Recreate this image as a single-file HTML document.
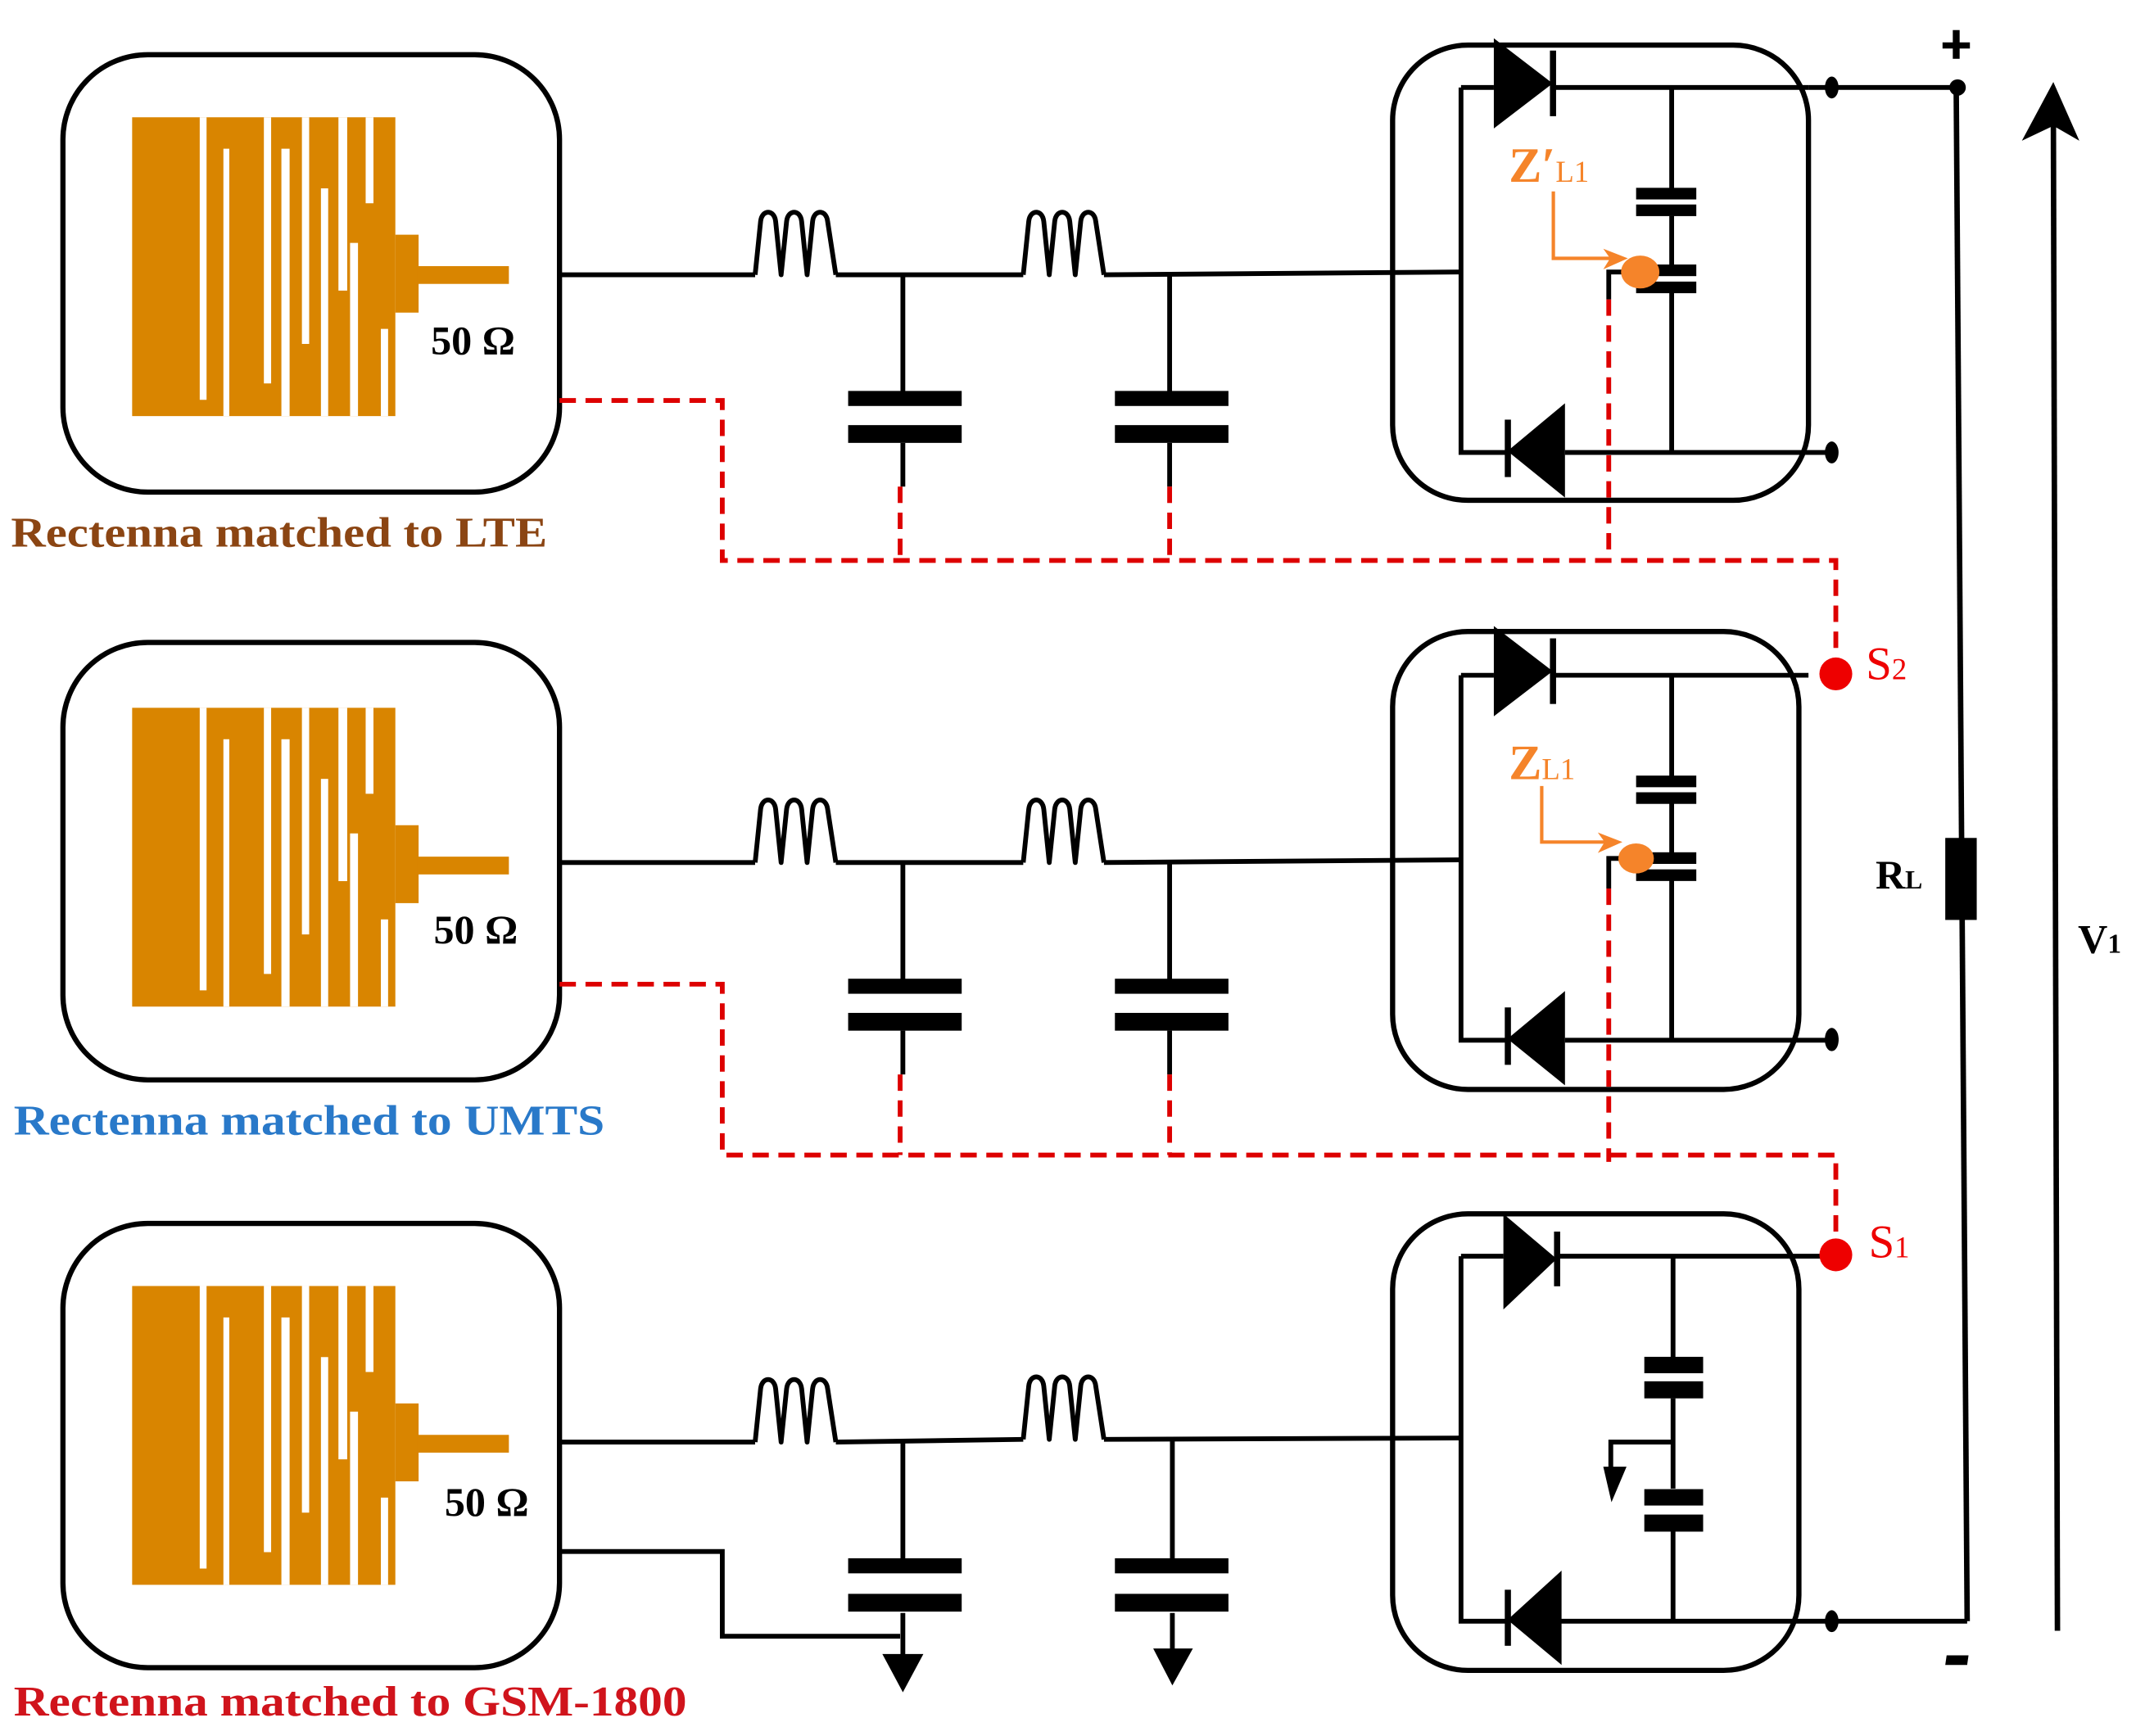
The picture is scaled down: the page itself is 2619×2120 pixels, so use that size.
<!DOCTYPE html>
<html><head><meta charset="utf-8"><style>html,body{margin:0;padding:0;background:#fff}svg{display:block}</style></head>
<body>
<svg width="2619" height="2120" viewBox="0 0 1568 1270" preserveAspectRatio="none" xmlns="http://www.w3.org/2000/svg">
<defs>
<g id="ant">
<rect x="96.6" y="85.8" width="192.4" height="218.6" fill="#d98500"/>
<rect x="289" y="171.7" width="17" height="57" fill="#d98500"/>
<rect x="305" y="194.7" width="67" height="13" fill="#d98500"/>
<g fill="#fff">
<rect x="146" y="85.8" width="5" height="206.7"/>
<rect x="163.3" y="108.8" width="4.3" height="195.6"/>
<rect x="192.9" y="85.8" width="5.3" height="194.7"/>
<rect x="205.7" y="108.8" width="6" height="195.6"/>
<rect x="220.7" y="85.8" width="5.3" height="165.8"/>
<rect x="234.6" y="137.8" width="5.3" height="166.6"/>
<rect x="247.4" y="85.8" width="6.4" height="126.8"/>
<rect x="255.9" y="177.7" width="5.8" height="126.7"/>
<rect x="267.3" y="85.8" width="5.7" height="62.9"/>
<rect x="278.4" y="240.6" width="5.3" height="63.8"/>
</g>
</g>
<path id="ind" d="M0,0 L4,-39 C5,-48 14,-48 15,-39 L19,0 L23,-39 C24,-48 33,-48 34,-39 L38,0 L42,-39 C43,-48 52,-48 53,-39 L59,0" fill="none" stroke="#000" stroke-width="3.5" stroke-linejoin="round"/>
<g id="filt" fill="none" stroke="#000" stroke-width="3.5">
<rect x="46" y="40" width="363" height="320" rx="62" stroke-width="3.8"/>
<path d="M409,201 L552,201 M611,201 L748,201 M807,201 L1068,199"/>
<use href="#ind" x="552" y="201"/>
<use href="#ind" x="748" y="201"/>
<path d="M660,201 V288 M660,324 V356 M855,201 V288 M855,324 V356"/>
<g fill="#000" stroke="none">
<rect x="620" y="286" width="83" height="11"/><rect x="620" y="311" width="83" height="13"/>
<rect x="815" y="286" width="83" height="11"/><rect x="815" y="311" width="83" height="13"/>
</g>
</g>
<g id="rect" fill="none" stroke="#000" stroke-width="3.5">
<path d="M1068,64 V331 H1102 M1068,64 H1092 M1135,64 H1322 M1144,331 H1338 M1222,64 V138 M1222,158 V194 M1222,214 V331"/>
<g fill="#000" stroke="none">
<rect x="1196" y="137.4" width="44" height="8.5"/><rect x="1196" y="149.6" width="44" height="8.5"/>
<rect x="1196" y="193.5" width="44" height="8.5"/><rect x="1196" y="206" width="44" height="8.5"/>
<polygon points="1092,28 1092,94 1135,61"/><rect x="1133" y="37" width="4.5" height="48"/>
<polygon points="1144,295 1144,364 1102,330"/><rect x="1100" y="307" width="4.5" height="42"/>
<ellipse cx="1339" cy="331" rx="5" ry="8"/>
</g>
</g>
</defs>

<use href="#ant"/>
<use href="#filt"/>
<rect x="1018" y="33" width="304" height="333" rx="55" fill="none" stroke="#000" stroke-width="3.8"/>
<use href="#rect"/>
<path d="M1222,199 H1176 V219" fill="none" stroke="#000" stroke-width="3.5"/>
<path d="M1322,64 H1430" stroke="#000" stroke-width="3.5"/>
<ellipse cx="1339" cy="64" rx="5" ry="8"/>
<ellipse cx="1431" cy="64" rx="6" ry="6"/>

<use href="#ant" transform="translate(0,432)"/>
<use href="#filt" transform="translate(0,430)"/>
<rect x="1018" y="462" width="297" height="335" rx="55" fill="none" stroke="#000" stroke-width="3.8"/>
<use href="#rect" transform="translate(0,430)"/>
<path d="M1222,628 H1176 V650" fill="none" stroke="#000" stroke-width="3.5"/>

<use href="#ant" transform="translate(0,855)"/>
<rect x="46" y="895" width="363" height="325" rx="62" fill="none" stroke="#000" stroke-width="3.8"/>
<g fill="none" stroke="#000" stroke-width="3.5">
<path d="M409,1055 L552,1055 M611,1055 L748,1053 M807,1053 L1068,1052"/>
<use href="#ind" x="552" y="1055"/>
<use href="#ind" x="748" y="1053"/>
<path d="M660,1055 V1142 M660,1180 V1212 M857,1053 V1142 M857,1180 V1208"/>
<path d="M409,1135 H528 V1197 H658"/>
</g>
<g fill="#000">
<rect x="620" y="1140" width="83" height="11"/><rect x="620" y="1166" width="83" height="13"/>
<rect x="815" y="1140" width="83" height="11"/><rect x="815" y="1166" width="83" height="13"/>
<polygon points="645,1210 675,1210 660,1238"/>
<polygon points="843,1206 872,1206 857,1233"/>
</g>
<rect x="1018" y="888" width="297" height="334" rx="55" fill="none" stroke="#000" stroke-width="3.8"/>
<g fill="none" stroke="#000" stroke-width="3.5">
<path d="M1068,919 V1186 H1102 M1068,919 H1099 M1138,919 H1342 M1141,1186 H1438 M1223,919 V993 M1223,1023 V1089 M1223,1120 V1186 M1223,1055 H1177.5 V1075"/>
</g>
<g fill="#000">
<rect x="1202" y="992.6" width="43" height="12"/><rect x="1202" y="1010.5" width="43" height="12.5"/>
<rect x="1202" y="1089.4" width="43" height="12"/><rect x="1202" y="1108" width="43" height="12.5"/>
<polygon points="1099,888 1099,958 1138,921"/><rect x="1136" y="901" width="4.5" height="40"/>
<polygon points="1141.5,1149 1141.5,1218 1102,1185"/><rect x="1100" y="1163" width="4.5" height="41"/>
<polygon points="1172,1073 1189,1073 1178,1099"/>
<ellipse cx="1339" cy="1186" rx="5" ry="8"/>
<ellipse cx="1339" cy="760" rx="5" ry="8"/>
</g>

<g fill="none" stroke="#dd0000" stroke-width="3.5" stroke-dasharray="12 7">
<path d="M409,293 H528 V410 H1342 V480"/>
<path d="M658,356 V410 M855,356 V410 M1176,219 V410"/>
<path d="M409,720 H528 V845 H1342 V905"/>
<path d="M658,786 V845 M855,786 V845 M1176,650 V850"/>
</g>
<circle cx="1342" cy="493" r="12" fill="#ee0000"/>
<circle cx="1342" cy="918" r="12" fill="#ee0000"/>

<g fill="none" stroke="#f5842a" stroke-width="2.5">
<path d="M1135.5,140 V189 H1182"/>
<path d="M1127,575 V616 H1178"/>
</g>
<g fill="#f5842a">
<polygon points="1172,182 1190,189 1172,197 1177,189"/>
<polygon points="1168,609 1186,616 1168,624 1173,616"/>
<ellipse cx="1199" cy="199" rx="14" ry="12"/>
<ellipse cx="1196" cy="628" rx="13" ry="11"/>
</g>

<line x1="1430" y1="64" x2="1438" y2="1186" stroke="#000" stroke-width="4"/>
<rect x="1422" y="613" width="23" height="60" fill="#000"/>
<line x1="1501" y1="78" x2="1504" y2="1193" stroke="#000" stroke-width="4"/>
<polygon points="1478,103 1501,60 1520,103 1501,92" fill="#000"/>
<rect x="1420" y="31" width="20" height="4.5" fill="#000"/>
<rect x="1427.5" y="22" width="5" height="21" fill="#000"/>
<polygon points="1423,1211 1439,1211 1438,1218 1422,1218" fill="#000"/>

<g font-family="Liberation Serif, serif" font-weight="bold">
<text x="315" y="259" font-size="30" fill="#000">50 Ω</text>
<text x="317" y="690" font-size="30" fill="#000">50 Ω</text>
<text x="325" y="1109" font-size="30" fill="#000">50 Ω</text>
<text x="8" y="400" font-size="31" fill="#8b4513" textLength="392" lengthAdjust="spacingAndGlyphs">Rectenna matched to LTE</text>
<text x="10" y="830" font-size="31" fill="#2979c9" textLength="432" lengthAdjust="spacingAndGlyphs">Rectenna matched to UMTS</text>
<text x="10" y="1255" font-size="31" fill="#d0141c" textLength="492" lengthAdjust="spacingAndGlyphs">Rectenna matched to GSM-1800</text>
<text x="1103" y="133" font-size="36" fill="#f5842a">Z′<tspan font-size="22" font-weight="normal">L1</tspan></text>
<text x="1103" y="570" font-size="36" fill="#f5842a">Z<tspan font-size="22" font-weight="normal">L1</tspan></text>
<text x="1364" y="497" font-size="34" fill="#ee0000" font-weight="normal">S<tspan font-size="22">2</tspan></text>
<text x="1366" y="920" font-size="34" fill="#ee0000" font-weight="normal">S<tspan font-size="22">1</tspan></text>
<text x="1371" y="650" font-size="30" fill="#000">R<tspan font-size="19">L</tspan></text>
<text x="1519" y="697" font-size="30" fill="#000">V<tspan font-size="20">1</tspan></text>
</g>
</svg>
</body></html>
